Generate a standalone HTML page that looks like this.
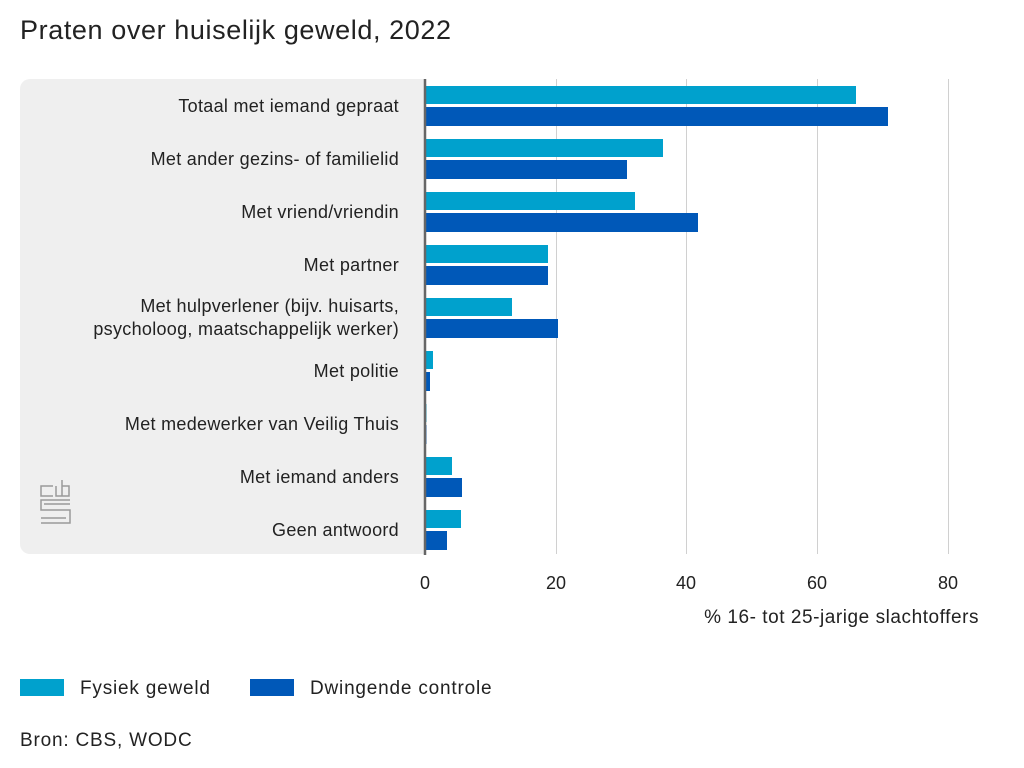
<!DOCTYPE html><html><head><meta charset="utf-8"><style>body{margin:0;background:#fff}svg{display:block}text{font-family:"Liberation Sans",sans-serif;fill:#222}</style></head><body>
<svg width="1024" height="768" viewBox="0 0 1024 768">
<text x="20" y="39" font-size="27" letter-spacing="0.6">Praten over huiselijk geweld, 2022</text>
<rect x="20" y="79" width="420" height="475" rx="10" fill="#efefef"/>
<rect x="426" y="79" width="20" height="475" fill="#fff"/>
<g stroke="#d0d0d0" stroke-width="1">
<line x1="556.5" y1="79" x2="556.5" y2="554"/><line x1="686.5" y1="79" x2="686.5" y2="554"/><line x1="817.5" y1="79" x2="817.5" y2="554"/><line x1="948.5" y1="79" x2="948.5" y2="554"/></g>
<g font-size="18" text-anchor="end" letter-spacing="0.3">
<text x="399" y="112">Totaal met iemand gepraat</text>
<text x="399" y="165">Met ander gezins- of familielid</text>
<text x="399" y="218">Met vriend/vriendin</text>
<text x="399" y="271">Met partner</text>
<text x="399" y="312">Met hulpverlener (bijv. huisarts,</text>
<text x="399" y="335">psycholoog, maatschappelijk werker)</text>
<text x="399" y="377">Met politie</text>
<text x="399" y="430">Met medewerker van Veilig Thuis</text>
<text x="399" y="483">Met iemand anders</text>
<text x="399" y="536">Geen antwoord</text></g>
<g fill="#00a1cd">
<rect x="425" y="86" width="431" height="18"/>
<rect x="425" y="139" width="238" height="18"/>
<rect x="425" y="192" width="210" height="18"/>
<rect x="425" y="245" width="123" height="18"/>
<rect x="425" y="298" width="87" height="18"/>
<rect x="425" y="351" width="8" height="18"/>
<rect x="425" y="404" width="1.5" height="18"/>
<rect x="425" y="457" width="27" height="18"/>
<rect x="425" y="510" width="36" height="18"/></g>
<g fill="#0058b8">
<rect x="425" y="107" width="463" height="19"/>
<rect x="425" y="160" width="202" height="19"/>
<rect x="425" y="213" width="273" height="19"/>
<rect x="425" y="266" width="123" height="19"/>
<rect x="425" y="319" width="133" height="19"/>
<rect x="425" y="372" width="5" height="19"/>
<rect x="425" y="425" width="1.5" height="19"/>
<rect x="425" y="478" width="37" height="19"/>
<rect x="425" y="531" width="22" height="19"/></g>
<line x1="425" y1="79" x2="425" y2="555" stroke="#666" stroke-width="2.5"/>
<g fill="none" stroke="#9a9a9a" stroke-width="1.5">
<path d="M53 486 H41 V496 H53 M56 486 V496 H69 V486 H62 M62 480 V496"/>
<path d="M70 500 H41 V510 H70 V523 H41 M44 504 H70 M41 518 H66"/></g>
<g font-size="18" text-anchor="middle">
<text x="425" y="589">0</text><text x="556" y="589">20</text><text x="686" y="589">40</text><text x="817" y="589">60</text><text x="948" y="589">80</text></g>
<text x="979" y="623" font-size="19" text-anchor="end" letter-spacing="0.55">% 16- tot 25-jarige slachtoffers</text>
<rect x="20" y="679" width="44" height="17" fill="#00a1cd"/>
<text x="80" y="694" font-size="19" letter-spacing="0.8">Fysiek geweld</text>
<rect x="250" y="679" width="44" height="17" fill="#0058b8"/>
<text x="310" y="694" font-size="19" letter-spacing="0.8">Dwingende controle</text>
<text x="20" y="746" font-size="19" letter-spacing="0.8">Bron: CBS, WODC</text>
</svg></body></html>
